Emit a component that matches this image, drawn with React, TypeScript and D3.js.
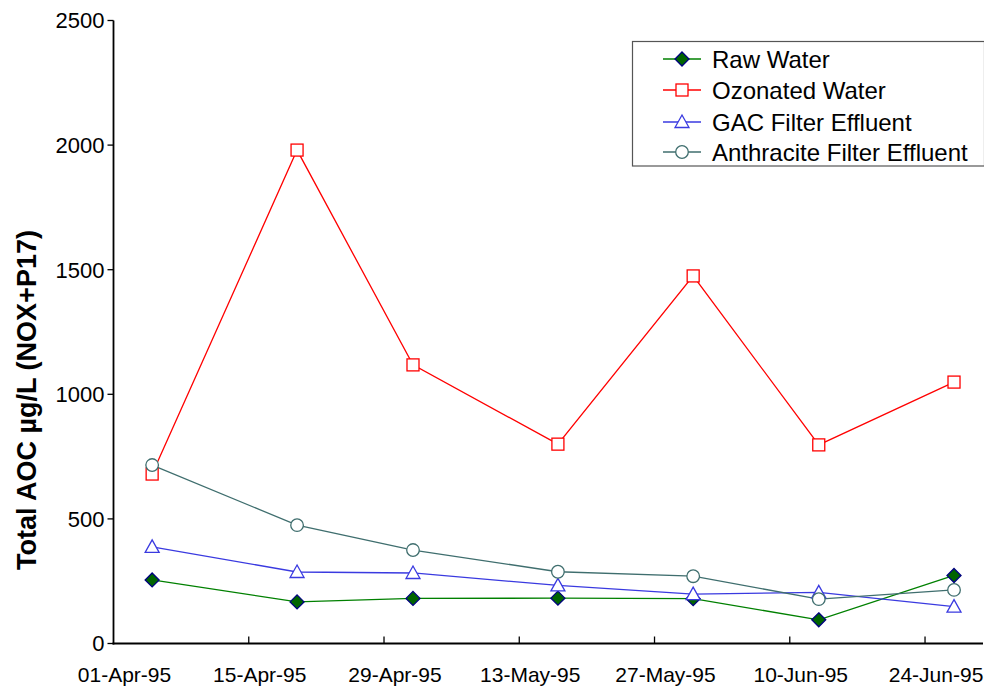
import React from "react";
import * as d3 from "d3";

const dates = ["1995-04-05", "1995-04-20", "1995-05-02", "1995-05-17", "1995-05-31", "1995-06-13", "1995-06-27"];
const rawWater = [255, 167, 181, 182, 180, 95, 273];
const ozonatedWater = [680, 1980, 1118, 800, 1475, 797, 1049];
const gacEffluent = [388, 287, 283, 233, 198, 205, 148];
const anthraciteEffluent = [716, 475, 375, 288, 270, 178, 215];
const xTickDates = ["1995-04-01", "1995-04-15", "1995-04-29", "1995-05-13", "1995-05-27", "1995-06-10", "1995-06-24"];
const yTicks = [0, 500, 1000, 1500, 2000, 2500];
const seriesNames = ["Raw Water", "Ozonated Water", "GAC Filter Effluent", "Anthracite Filter Effluent"];

const parse = d3.utcParse("%Y-%m-%d");
const fmt = d3.utcFormat("%d-%b-%y");

type Style = { color: string; marker: string; fill: string; stroke: string };
const styles: Style[] = [
  { color: "#008000", marker: "diamond", fill: "#006400", stroke: "#000080" },
  { color: "#ff0000", marker: "square", fill: "#ffffff", stroke: "#ff0000" },
  { color: "#3a3ae0", marker: "triangle", fill: "#ffffff", stroke: "#3a3ae0" },
  { color: "#3f6e6e", marker: "circle", fill: "#ffffff", stroke: "#3f6e6e" },
];

function Marker({ kind, x, y, fill, stroke }: { kind: string; x: number; y: number; fill: string; stroke: string }) {
  if (kind === "diamond") {
    const r = 7;
    return <path d={`M${x},${y - r}L${x + r},${y}L${x},${y + r}L${x - r},${y}Z`} fill={fill} stroke={stroke} strokeWidth={1.3} />;
  }
  if (kind === "square") {
    const r = 6;
    return <rect x={x - r} y={y - r} width={2 * r} height={2 * r} fill={fill} stroke={stroke} strokeWidth={1.3} />;
  }
  if (kind === "triangle") {
    const r = 7;
    return <path d={`M${x},${y - r}L${x + r},${y + 5.5}L${x - r},${y + 5.5}Z`} fill={fill} stroke={stroke} strokeWidth={1.3} />;
  }
  return <circle cx={x} cy={y} r={6.3} fill={fill} stroke={stroke} strokeWidth={1.3} />;
}

export default function App() {
  const W = 984, H = 687;
  const left = 113.5, right = 983, top = 20.5, bottom = 643.5;
  const x = d3.scaleUtc().domain([parse("1995-04-01")!, parse("1995-06-30")!]).range([left, right]);
  const y = d3.scaleLinear().domain([0, 2500]).range([bottom, top]);
  const allSeries = [rawWater, ozonatedWater, gacEffluent, anthraciteEffluent];
  const pts = dates.map((d) => parse(d)!);
  const line = d3.line<[number, number]>().x((d) => d[0]).y((d) => d[1]);
  const font = "'Liberation Sans', Arial, sans-serif";

  const legendRows = [59, 90, 122, 152];

  return (
    <svg width={W} height={H} style={{ position: "absolute", left: 0, top: 0 }} fontFamily={font}>
      <rect width={W} height={H} fill="#fff" />
      {/* axes */}
      <line x1={left} x2={left} y1={top} y2={bottom + 1} stroke="#000" strokeWidth={1.8} />
      <line x1={left - 1} x2={right} y1={bottom} y2={bottom} stroke="#000" strokeWidth={1.8} />
      {yTicks.map((t) => (
        <g key={t}>
          <line x1={left - 6} x2={left} y1={y(t)} y2={y(t)} stroke="#000" strokeWidth={1.3} />
          <text x={left - 9} y={y(t)} dy="0.36em" textAnchor="end" fontSize={22}>{t}</text>
        </g>
      ))}
      {xTickDates.map((t) => {
        const xv = x(parse(t)!);
        return (
          <g key={t}>
            {t !== "1995-04-01" && <line x1={xv} x2={xv} y1={bottom} y2={bottom - 7} stroke="#000" strokeWidth={1.3} />}
            <text x={xv + 11} y={682} textAnchor="middle" fontSize={21}>{fmt(parse(t)!)}</text>
          </g>
        );
      })}
      <text transform={`translate(36,400) rotate(-90)`} textAnchor="middle" fontSize={27} fontWeight="bold">
        Total AOC µg/L (NOX+P17)
      </text>
      {/* series */}
      {allSeries.map((vals, i) => {
        const p: [number, number][] = vals.map((v, j) => [x(pts[j]), y(v)]);
        return (
          <g key={i}>
            <path d={line(p)!} fill="none" stroke={styles[i].color} strokeWidth={1.3} />
          </g>
        );
      })}
      {allSeries.map((vals, i) => (
        <g key={"m" + i}>
          {vals.map((v, j) => (
            <Marker key={j} kind={styles[i].marker} x={x(pts[j])} y={y(v)} fill={styles[i].fill} stroke={styles[i].stroke} />
          ))}
        </g>
      ))}
      {/* legend */}
      <rect x={632.5} y={41.5} width={352} height={124.5} fill="#fff" stroke="#555" strokeWidth={1.2} />
      {seriesNames.map((n, i) => (
        <g key={n}>
          <line x1={663} x2={701} y1={legendRows[i]} y2={legendRows[i]} stroke={styles[i].color} strokeWidth={1.3} />
          <Marker kind={styles[i].marker} x={682} y={legendRows[i]} fill={styles[i].fill} stroke={styles[i].stroke} />
          <text x={712} y={legendRows[i]} dy="0.36em" fontSize={24}>{n}</text>
        </g>
      ))}
    </svg>
  );
}
